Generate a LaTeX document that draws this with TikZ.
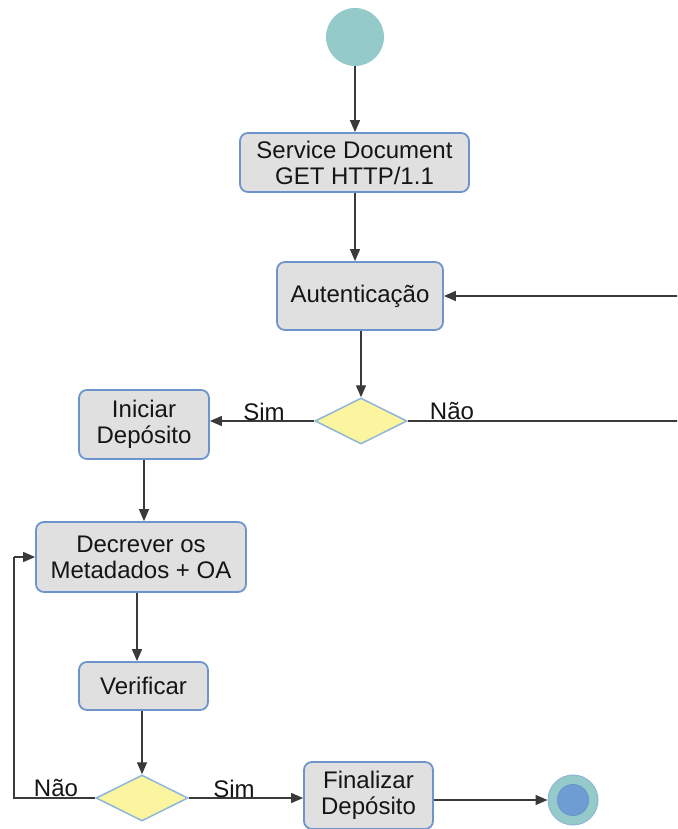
\documentclass[tikz,border=0pt]{standalone}
\usepackage{fontspec}
\setmainfont{Liberation Sans}
\usetikzlibrary{shapes.geometric,arrows.meta}
\definecolor{boxfill}{HTML}{E0E0E0}
\definecolor{boxline}{HTML}{6E95CB}
\definecolor{dfill}{HTML}{FBF5A0}
\definecolor{dline}{HTML}{8FB5D9}
\definecolor{teal}{HTML}{94CACA}
\definecolor{endin}{HTML}{6D9DD3}
\definecolor{conn}{HTML}{3A3A3A}
\definecolor{txt}{HTML}{151515}
\begin{document}
\begin{tikzpicture}[x=1pt,y=-1pt,
  actbox/.style={draw=boxline,fill=boxfill,line width=1.8pt,rounded corners=8pt,
    align=center,inner sep=0pt,text=txt,font=\fontsize{24}{26}\selectfont},
  decis/.style={diamond,draw=dline,fill=dfill,line width=1.5pt,inner sep=0pt,
    minimum width=92pt,minimum height=46pt,aspect=2},
  conn/.style={draw=conn,line width=1.4pt,-{Triangle[length=12pt,width=10pt]}},
  plain/.style={draw=conn,line width=1.4pt},
  lbl/.style={font=\fontsize{24}{26}\selectfont,text=txt,inner sep=0pt}]
\path[use as bounding box] (0,0) rectangle (677,829);
\clip (0,0) rectangle (677,829);
% start
\node[circle,fill=teal,minimum size=58pt,inner sep=0pt] (start) at (355,37) {};
\node[actbox,minimum width=229pt,minimum height=59pt] (svc) at (354.5,162.5) {Service Document\\GET HTTP/1.1};
\node[actbox,minimum width=166pt,minimum height=68pt] (auth) at (360,296) {Autenticação};
\node[decis] (d1) at (361,421) {};
\node[actbox,minimum width=130pt,minimum height=69pt] (ini) at (144,424.5) {Iniciar\\Depósito};
\node[actbox,minimum width=210pt,minimum height=70pt] (dec) at (141,557) {Decrever os\\Metadados + OA};
\node[actbox,minimum width=129pt,minimum height=48pt] (ver) at (143.5,686) {Verificar};
\node[decis] (d2) at (142,798) {};
\node[actbox,minimum width=129pt,minimum height=67pt] (fin) at (368.5,795.5) {Finalizar\\Depósito};
\node[circle,fill=teal,draw=dline,line width=1pt,minimum size=50pt,inner sep=0pt] (endo) at (573,800) {};
\node[circle,fill=endin,draw=boxline,line width=1pt,minimum size=31pt,inner sep=0pt] (endi) at (573,800) {};
\coordinate (r1) at (700,421);
\coordinate (r2) at (700,296);
\coordinate (l1) at (14,798);
\coordinate (l2) at (14,557);
% connectors
\draw[conn] (start) -- (svc.north -| start);
\draw[conn] (svc.south -| start) -- (auth.north -| start);
\draw[conn] (auth.south -| d1) -- (d1.north);
\draw[conn] (d1.west) -- (ini.east |- d1);
\draw[plain] (d1.east) -- (r1) -- (r2);
\draw[conn] (r2) -- (auth.east);
\draw[conn] (ini.south -| 144,0) -- (dec.north -| 144,0);
\draw[conn] (dec.south -| 137,0) -- (ver.north -| 137,0);
\draw[conn] (ver.south -| d2) -- (d2.north);
\draw[plain] (d2.west) -- (l1) -- (l2);
\draw[conn] (l2) -- (dec.west);
\draw[conn] (d2.east) -- (fin.west |- d2);
\draw[conn] (fin.east |- endo) -- (endo.west);
% labels
\node[lbl] (sim1) at (264,412) {Sim};
\node[lbl] (nao1) at (452,411) {Não};
\node[lbl] (nao2) at (56,788) {Não};
\node[lbl] (sim2) at (234,789) {Sim};
\end{tikzpicture}
\end{document}
